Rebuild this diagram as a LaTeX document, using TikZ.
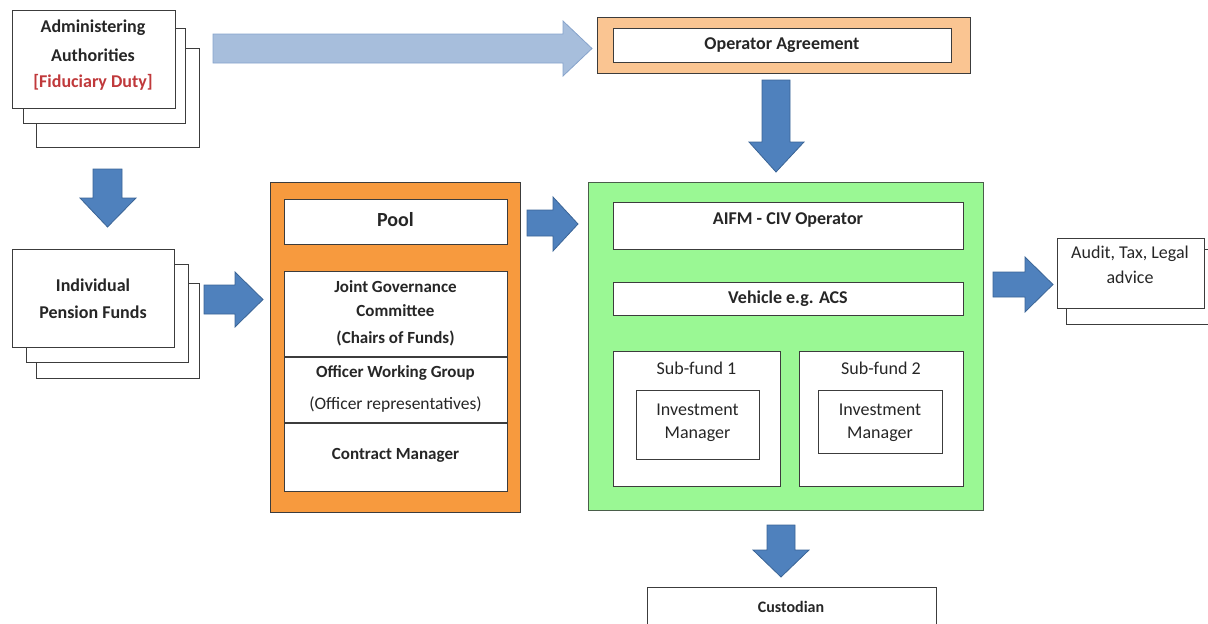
\documentclass[tikz,border=0pt]{standalone}
\usepackage{fontspec}
\setmainfont{Carlito}
\definecolor{edge}{HTML}{3C3C3C}
\definecolor{poolorange}{HTML}{F79A3E}
\definecolor{lightorange}{HTML}{FAC592}
\definecolor{cgreen}{HTML}{9AF894}
\definecolor{gedge}{HTML}{4A5E4A}
\definecolor{barrow}{HTML}{4F81BD}
\definecolor{barrowedge}{HTML}{3A6496}
\definecolor{larrow}{HTML}{A7BEDC}
\definecolor{larrowedge}{HTML}{86A3CB}
\definecolor{fidred}{HTML}{C0393B}
\begin{document}
\begin{tikzpicture}[x=1pt,y=-1pt,
  bx/.style={draw=edge, line width=1.2pt, fill=white, inner sep=0pt, anchor=north west},
  txt/.style={inner sep=0pt, font=\fontsize{18}{21}\selectfont, text=black!85},
  btxt/.style={txt, font=\fontsize{18}{21}\selectfont\bfseries},
  stxt/.style={txt, font=\fontsize{17}{20}\selectfont\bfseries},
  blk/.style={fill=barrow, draw=barrowedge, line width=0.8pt, line join=miter},
  lblk/.style={fill=larrow, draw=larrowedge, line width=0.8pt}]
\useasboundingbox (0,0) rectangle (1208,624);

% ---------- Administering Authorities stack
\node[bx, minimum width=163pt, minimum height=99pt] (aa3) at (36,48) {};
\node[bx, minimum width=162pt, minimum height=95pt] (aa2) at (23,28) {};
\node[bx, minimum width=163pt, minimum height=98pt] (aa) at (12,10) {};
\node[btxt] (aa1t) at (93,28) {Administering};
\node[btxt] (aa2t) at (93,55) {Authorities};
\node[btxt, text=fidred] (aa3t) at (93,82) {[Fiduciary Duty]};

% ---------- Individual Pension Funds stack
\node[bx, minimum width=163pt, minimum height=95pt] (pf3) at (36,283) {};
\node[bx, minimum width=162pt, minimum height=98pt] (pf2) at (26,264) {};
\node[bx, minimum width=162pt, minimum height=98pt] (pf) at (12,249) {};
\node[btxt] (pf1t) at (93,285) {Individual};
\node[btxt] (pf2t) at (93,312) {Pension Funds};

% ---------- Operator Agreement
\node[draw=edge, line width=1.2pt, fill=lightorange, inner sep=0pt, anchor=north west,
      minimum width=373pt, minimum height=56pt] (opo) at (597,17) {};
\node[bx, minimum width=338pt, minimum height=34pt] (op) at (613,28) {};
\node[btxt] (opt) at (782,45) {Operator Agreement};

% ---------- Pool
\node[draw=edge, line width=1.3pt, fill=poolorange, inner sep=0pt, anchor=north west,
      minimum width=250pt, minimum height=330pt] (poolo) at (270,182) {};
\node[bx, minimum width=223pt, minimum height=45pt] (pool) at (284,199) {};
\node[btxt, font=\fontsize{20}{23}\selectfont\bfseries] (poolt) at (395.5,220) {Pool};
\node[bx, minimum width=223pt, minimum height=220pt] (gov) at (284,271) {};
\draw[edge, line width=1.2pt] (gov.west |- 0,357) coordinate (d1a) -- (gov.east |- 0,357) coordinate (d1b);
\draw[edge, line width=1.2pt] (gov.west |- 0,423) coordinate (d2a) -- (gov.east |- 0,423) coordinate (d2b);
\node[stxt] (g1) at (395.5,287) {Joint Governance};
\node[stxt] (g2) at (395.5,311) {Committee};
\node[stxt] (g3) at (395.5,338) {(Chairs of Funds)};
\node[stxt] (g4) at (395.5,373) {Officer Working Group};
\node[txt, font=\fontsize{17.5}{20}\selectfont] (g5) at (395.5,405) {(Officer representatives)};
\node[stxt] (g6) at (395.5,455) {Contract Manager};

% ---------- CIV (green)
\node[draw=gedge, line width=1.3pt, fill=cgreen, inner sep=0pt, anchor=north west,
      minimum width=395pt, minimum height=328pt] (civ) at (588,182) {};
\node[bx, minimum width=350pt, minimum height=47pt] (aifm) at (613,202) {};
\node[btxt] (aifmt) at (788,220) {AIFM - CIV Operator};
\node[bx, minimum width=350pt, minimum height=33pt] (veh) at (613,282) {};
\node[btxt] (veht) at (788,299) {Vehicle e.g. ACS};
\node[bx, minimum width=167pt, minimum height=135pt] (sf1) at (613,351) {};
\node[bx, minimum width=164pt, minimum height=135pt] (sf2) at (799,351) {};
\node[txt] (sf1t) at (696.5,368) {Sub-fund 1};
\node[txt] (sf2t) at (881,368) {Sub-fund 2};
\node[bx, minimum width=123pt, minimum height=69pt] (im1) at (636,390) {};
\node[bx, minimum width=124pt, minimum height=63pt] (im2) at (818,390) {};
\node[txt] (im1a) at (697.5,410) {Investment};
\node[txt] (im1b) at (697.5,434) {Manager};
\node[txt] (im2a) at (880,410) {Investment};
\node[txt] (im2b) at (880,434) {Manager};

% ---------- Audit stack
\node[bx, minimum width=150pt, minimum height=75pt] (au2) at (1066,249) {};
\node[bx, minimum width=147pt, minimum height=70pt] (au) at (1057,238) {};
\node[txt] (au1t) at (1130,254) {Audit, Tax, Legal};
\node[txt] (au2t) at (1130,277) {advice};

% ---------- Custodian
\node[bx, minimum width=289pt, minimum height=50pt] (cus) at (647,587) {};
\node[btxt, font=\fontsize{16}{19}\selectfont\bfseries] (cust) at (791,607) {Custodian};

% ---------- block arrows
% light arrow: Administering -> Operator Agreement
\filldraw[lblk] (213,34) -- (563,34) -- (563,21) -- (592,48.5) -- (563,76) -- (563,63) -- (213,63) -- cycle;
% Operator Agreement -> CIV
\filldraw[blk] (762,80) -- (790,80) -- (790,142) -- (804,142) -- (776,172) -- (749,142) -- (762,142) -- cycle;
% Administering -> Pension funds
\filldraw[blk] (93,169) -- (122,169) -- (122,198) -- (136,198) -- (107.5,227) -- (80,198) -- (93,198) -- cycle;
% Pension funds -> Pool
\filldraw[blk] (204,285) -- (235,285) -- (235,272) -- (263,299.5) -- (235,327) -- (235,314) -- (204,314) -- cycle;
% Pool -> CIV
\filldraw[blk] (527,210) -- (553,210) -- (553,197) -- (578,224) -- (553,251) -- (553,236) -- (527,236) -- cycle;
% CIV -> Audit
\filldraw[blk] (993,272) -- (1025,272) -- (1025,257) -- (1053,284.5) -- (1025,312) -- (1025,297) -- (993,297) -- cycle;
% CIV -> Custodian
\filldraw[blk] (767,525) -- (795,525) -- (795,550) -- (809,550) -- (781,577) -- (753,550) -- (767,550) -- cycle;
\end{tikzpicture}
\end{document}
